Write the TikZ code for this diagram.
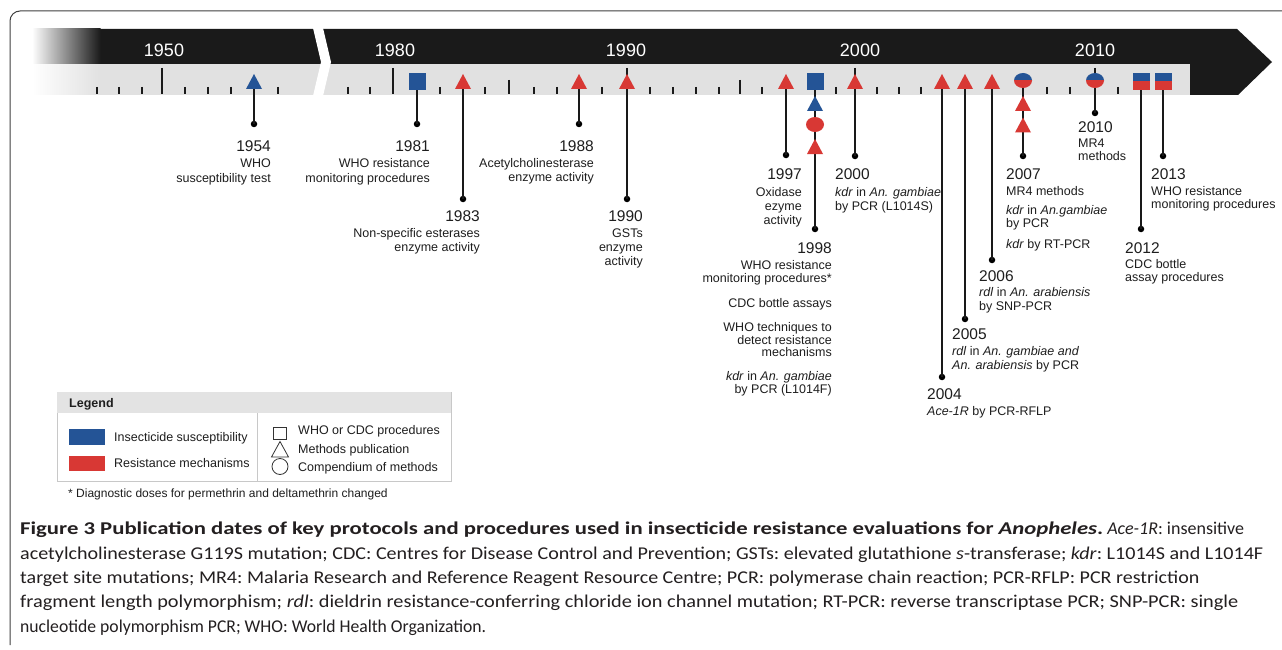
\documentclass[tikz,border=0pt]{standalone}
\usepackage{fontspec}
\usepackage{graphicx}
\setmainfont{Liberation Sans}
\newfontfamily\capfont{Carlito}
\usetikzlibrary{shadings}
\definecolor{tlblue}{RGB}{36,84,150}
\definecolor{tlred}{RGB}{216,56,52}
\definecolor{barblack}{RGB}{26,26,26}
\definecolor{bargray}{RGB}{225,225,225}
\definecolor{txt}{RGB}{30,30,30}
\definecolor{legline}{RGB}{200,200,200}
\definecolor{leghead}{RGB}{227,227,227}
\definecolor{captxt}{RGB}{35,31,32}
\newcommand\descfont{\fontsize{12.5}{14}\selectfont}
\newcommand\yrfont{\fontsize{15.5}{17}\selectfont}
\newcommand\capw[2]{\resizebox{#1}{\height}{#2}}
\tikzset{
  frameline/.style={draw=black!75, line width=1pt},
  tick/.style={draw=barblack, line width=1.2pt},
  stem/.style={draw=black!90, line width=1.4pt},
  dot/.style={circle, fill=black, inner sep=0pt, minimum size=6.5pt},
  hdr/.style={text=white, font=\fontsize{18}{20}\selectfont, inner sep=0pt},
  yr/.style={text=txt, font=\yrfont, inner sep=0pt},
  descR/.style={anchor=north east, align=right, inner sep=0pt, text=txt, font=\descfont},
  descL/.style={anchor=north west, align=left, inner sep=0pt, text=txt, font=\descfont},
  legtext/.style={anchor=base west, inner sep=0pt, text=txt, font=\fontsize{12.5}{14}\selectfont},
  legshape/.style={draw=black!80, line width=0.8pt},
  capline/.style={anchor=base west, inner sep=0pt, text=captxt, font=\capfont\fontsize{18}{22}\selectfont\frenchspacing},
  pics/tri/.style={code={\fill[#1] (-8,7.5) -- (8,7.5) -- (0,-7.5) -- cycle;}},
  pics/sq/.style={code={\fill[#1] (-8.5,-8.5) rectangle (8.5,8.5);}},
  pics/hsq/.style={code={\fill[tlblue] (-8.5,-8.5) rectangle (8.5,0); \fill[tlred] (-8.5,0) rectangle (8.5,8.5);}},
  pics/circ/.style={code={\fill[#1] (0,0) ellipse [x radius=9, y radius=7.5];}},
  pics/hcirc/.style={code={
     \begin{scope}\clip (-10,-10) rectangle (10,0); \fill[tlblue] (0,0) ellipse [x radius=9, y radius=7.5];\end{scope}
     \begin{scope}\clip (-10,0) rectangle (10,10); \fill[tlred] (0,0) ellipse [x radius=9, y radius=7.5];\end{scope}}},
}
\begin{document}
\begin{tikzpicture}[x=1pt,y=-1pt]
\useasboundingbox (0,0) rectangle (1282,650);
\fill[white] (0,0) rectangle (1282,650);
% frame
\draw[frameline, rounded corners=10pt] (1290,11) -- (10,11) -- (10,645);
% bar
\fill[bargray] (100,64) rectangle (1190,95);
\shade[left color=white, right color=bargray] (32,64) rectangle (100.5,95);
\fill[barblack] (100,29) -- (1237,29) -- (1272,62) -- (1238,95) -- (1190,95) -- (1190,64) -- (100,64) -- cycle;
\shade[left color=white, right color=barblack] (32,29) rectangle (100.5,64);
\fill[white] (313,28) -- (323,28) -- (331,62) -- (323,96) -- (313,96) -- (321,62) -- cycle;
% ticks
\foreach \x in {97,119,142,185,208,231,278,348,370,440,485,534,557,602,650,673,696,719,762,836,877,899,921,1047,1070,1118}
  \draw[tick] (\x,87) -- (\x,94.5);
\foreach \x in {509,740} \draw[tick] (\x,80) -- (\x,94.5);
\foreach \x in {162,393,627,855,1095} \draw[tick] (\x,68) -- (\x,94.5);
% header years
\node[hdr] (h1950) at (164,50) {1950};
\node[hdr] (h1980) at (395,50) {1980};
\node[hdr] (h1990) at (626,50) {1990};
\node[hdr] (h2000) at (860,50) {2000};
\node[hdr] (h2010) at (1095,50) {2010};
% marker anchors
\coordinate (m54) at (254,81.5);
\coordinate (m81) at (417,81.5);
\coordinate (m83) at (463,81.5);
\coordinate (m88) at (579,81.5);
\coordinate (m90) at (627,81.5);
\coordinate (m97) at (786,81.5);
\coordinate (m98) at (815,81.5);
\coordinate (m98b) at (815,103.5);
\coordinate (m98c) at (815,124.5);
\coordinate (m98d) at (815,146.5);
\coordinate (m00) at (855,81.5);
\coordinate (m04) at (942,81.5);
\coordinate (m05) at (965,81.5);
\coordinate (m06) at (992,81.5);
\coordinate (m07) at (1023,80.5);
\coordinate (m07b) at (1023,103.5);
\coordinate (m07c) at (1023,125);
\coordinate (m10) at (1095,80.5);
\coordinate (m12) at (1141,81.5);
\coordinate (m13) at (1163,81.5);
% dots
\node[dot] (d54) at (254,124) {};
\node[dot] (d81) at (417,124) {};
\node[dot] (d83) at (463,199) {};
\node[dot] (d88) at (579,124) {};
\node[dot] (d90) at (627,199) {};
\node[dot] (d97) at (786,155) {};
\node[dot] (d98) at (815,229) {};
\node[dot] (d00) at (855,156) {};
\node[dot] (d04) at (942,377) {};
\node[dot] (d05) at (965,319) {};
\node[dot] (d06) at (992,260) {};
\node[dot] (d07) at (1023,156) {};
\node[dot] (d10) at (1095,113) {};
\node[dot] (d12) at (1141,229) {};
\node[dot] (d13) at (1163,156) {};
% stems
\foreach \a/\b in {m54/d54,m81/d81,m83/d83,m88/d88,m90/d90,m97/d97,m98/d98,m00/d00,m04/d04,m05/d05,m06/d06,m07/d07,m10/d10,m12/d12,m13/d13}
  \draw[stem] (\a) -- (\b.center);
% markers
\pic at (m54) {tri=tlblue};
\pic at (m81) {sq=tlblue};
\pic at (m83) {tri=tlred};
\pic at (m88) {tri=tlred};
\pic at (m90) {tri=tlred};
\pic at (m97) {tri=tlred};
\pic at (m98) {sq=tlblue};
\pic at (m98b) {tri=tlblue};
\pic at (m98c) {circ=tlred};
\pic at (m98d) {tri=tlred};
\pic at (m00) {tri=tlred};
\pic at (m04) {tri=tlred};
\pic at (m05) {tri=tlred};
\pic at (m06) {tri=tlred};
\pic at (m07) {hcirc};
\pic at (m07b) {tri=tlred};
\pic at (m07c) {tri=tlred};
\pic at (m10) {hcirc};
\pic at (m12) {hsq};
\pic at (m13) {hsq};
% labels left side (right aligned)
\node[yr, anchor=base east] (y54) at (271,151) {1954};
\node[descR, font=\fontsize{12.5}{15}\selectfont] (t54) at (271,158.5) {WHO\\susceptibility test};
\node[yr, anchor=base east] (y81) at (430,151) {1981};
\node[descR, font=\fontsize{12.5}{15}\selectfont] (t81) at (430,158.5) {WHO resistance\\monitoring procedures};
\node[yr, anchor=base east] (y83) at (480,221) {1983};
\node[descR] (t83) at (480,228.5) {Non-specific esterases\\enzyme activity};
\node[yr, anchor=base east] (y88) at (594,151) {1988};
\node[descR] (t88) at (594,158.5) {Acetylcholinesterase\\enzyme activity};
\node[yr, anchor=base east] (y90) at (643,221) {1990};
\node[descR] (t90) at (643,228.5) {GSTs\\enzyme\\activity};
\node[yr, anchor=base east] (y97) at (802,179) {1997};
\node[descR] (t97) at (802,187.5) {Oxidase\\ezyme\\activity};
\node[yr, anchor=base east] (y98) at (832,253) {1998};
\node[descR, font=\fontsize{12.5}{12.8}\selectfont] (t98) at (832,260.5) {WHO resistance\\monitoring procedures*\\[11.8pt]CDC bottle assays\\[11.3pt]WHO techniques to\\detect resistance\\mechanisms\\[11.3pt]\textit{kdr} in \textit{An. gambiae}\\by PCR (L1014F)};
% labels right side (left aligned)
\node[yr, anchor=base west] (y00) at (835,179) {2000};
\node[descL] (t00) at (835,187.5) {\textit{kdr} in \textit{An. gambiae}\\by PCR (L1014S)};
\node[yr, anchor=base west] (y04) at (927,399) {2004};
\node[descL] (t04) at (927,406.5) {\textit{Ace-1R} by PCR-RFLP};
\node[yr, anchor=base west] (y05) at (952,339) {2005};
\node[descL] (t05) at (952,346.5) {\textit{rdl} in \textit{An. gambiae and}\\\textit{An. arabiensis} by PCR};
\node[yr, anchor=base west] (y06) at (979,281) {2006};
\node[descL] (t06) at (979,287.5) {\textit{rdl} in \textit{An. arabiensis}\\by SNP-PCR};
\node[yr, anchor=base west] (y07) at (1006,179) {2007};
\node[descL, font=\fontsize{12.5}{13}\selectfont] (t07) at (1006,186.5) {MR4 methods\\[6pt]\textit{kdr} in \textit{An.gambiae}\\by PCR\\[8pt]\textit{kdr} by RT-PCR};
\node[yr, anchor=base west] (y10) at (1078,133) {2010};
\node[descL, font=\fontsize{12.5}{13}\selectfont] (t10) at (1078,138.5) {MR4\\methods};
\node[yr, anchor=base west] (y12) at (1125,253) {2012};
\node[descL, font=\fontsize{12.5}{13}\selectfont] (t12) at (1125,259.5) {CDC bottle\\assay procedures};
\node[yr, anchor=base west] (y13) at (1151,179) {2013};
\node[descL, font=\fontsize{12.5}{12.5}\selectfont] (t13) at (1151,186.5) {WHO resistance\\monitoring procedures};
% legend
\draw[draw=legline, line width=0.8pt, fill=white] (57,392) rectangle (451,481);
\fill[leghead] (57.4,392.4) rectangle (450.6,413);
\draw[draw=legline, line width=0.8pt] (257,413) -- (257,481);
\node[legtext, font=\bfseries\fontsize{12.5}{14}\selectfont] (legT) at (69,407.5) {Legend};
\fill[tlblue] (69,429) rectangle (105,445);
\fill[tlred] (69,456) rectangle (105,471);
\node[legtext] (l1) at (114,441.5) {Insecticide susceptibility};
\node[legtext] (l2) at (114,467.5) {Resistance mechanisms};
\draw[legshape] (273,427) rectangle (286,439);
\draw[legshape] (271.5,457) -- (288.5,457) -- (280,441.5) -- cycle;
\draw[legshape] (280,466.5) circle [radius=8];
\node[legtext] (l3) at (298,434.5) {WHO or CDC procedures};
\node[legtext] (l4) at (298,453.5) {Methods publication};
\node[legtext] (l5) at (298,471.5) {Compendium of methods};
\node[legtext, font=\fontsize{12}{14}\selectfont] (fn) at (68,497) {* Diagnostic doses for permethrin and deltamethrin changed};
% caption
\node[capline] (c1) at (20,534) {\capw{1083pt}{\textbf{Figure 3 Publication dates of key protocols and procedures used in insecticide resistance evaluations for \textit{Anopheles}.}} \textit{Ace-1R}: insensitive};
\node[capline] (c2) at (20,559.5) {\capw{1243pt}{acetylcholinesterase G119S mutation; CDC: Centres for Disease Control and Prevention; GSTs: elevated glutathione \textit{s}-transferase; \textit{kdr}: L1014S and L1014F}};
\node[capline] (c3) at (20,583.5) {\capw{1179pt}{target site mutations; MR4: Malaria Research and Reference Reagent Resource Centre; PCR: polymerase chain reaction; PCR-RFLP: PCR restriction}};
\node[capline] (c4) at (20,607.5) {\capw{1218pt}{fragment length polymorphism; \textit{rdl}: dieldrin resistance-conferring chloride ion channel mutation; RT-PCR: reverse transcriptase PCR; SNP-PCR: single}};
\node[capline] (c5) at (20,632.5) {\capw{466pt}{nucleotide polymorphism PCR; WHO: World Health Organization.}};
\end{tikzpicture}
\end{document}
